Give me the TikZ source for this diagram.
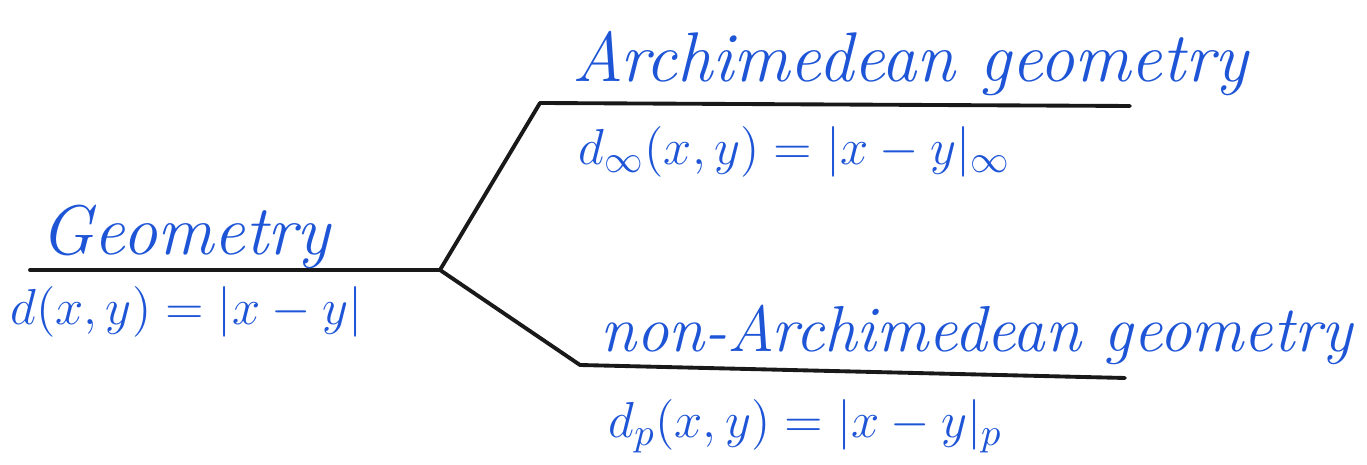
\documentclass[tikz,border=0pt]{standalone}
\usepackage{amsmath,amssymb}
\usepackage{tikz}
\usetikzlibrary{positioning}
\definecolor{inkblue}{RGB}{30,85,215}
\definecolor{inkblack}{RGB}{25,25,25}

\begin{document}
\begin{tikzpicture}[line cap=round,line join=round,
  branch/.style={inkblack,line width=1.1pt},
  title/.style={inkblue,font=\fontsize{20}{24}\selectfont\itshape,inner sep=0pt,anchor=base west},
  metric/.style={inkblue,font=\fontsize{15}{18}\selectfont,inner sep=0pt,anchor=base west}]
 \useasboundingbox (0,0) rectangle (13.67,4.65);
 % Stem.
 \coordinate (g0) at (0.30,1.95);
 \coordinate (g1) at (4.40,1.95);
 \draw[branch] (g0)--(g1);
 \node[title] (geo) at (0.40,2.10) {Geometry};
 \node[metric] (geometric) at (0.10,1.40) {$d(x,y)=|x-y|$};
 % Upper branch.
 \coordinate (a0) at (5.40,3.62);
 \coordinate (a1) at (11.30,3.59);
 \draw[branch] (g1)--(a0)--(a1);
 \node[title] (arch) at (5.72,3.83) {Archimedean geometry};
 \node[metric] (archmetric) at (5.78,3.00) {$d_\infty(x,y)=|x-y|_\infty$};
 % Lower branch.
 \coordinate (n0) at (5.80,1.00);
 \coordinate (n1) at (11.25,0.87);
 \draw[branch] (g1)--(n0)--(n1);
 \node[title,font=\fontsize{18.5}{22}\selectfont\itshape] (nonarch) at (6.00,1.13) {non-Archimedean geometry};
 \node[metric] (nonarchmetric) at (6.08,0.27) {$d_p(x,y)=|x-y|_p$};
\end{tikzpicture}
\end{document}
